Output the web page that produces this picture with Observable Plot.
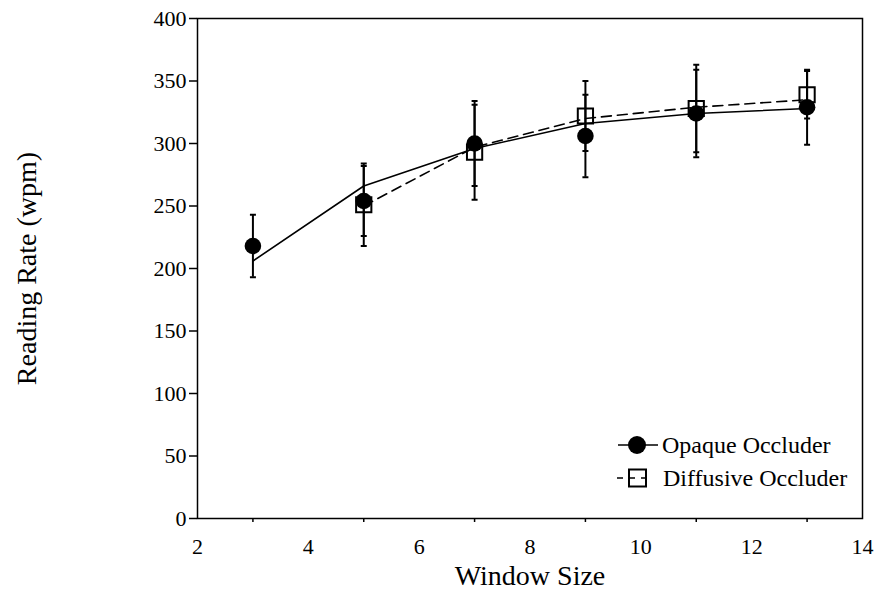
<!DOCTYPE html>
<html>
<head>
<meta charset="utf-8">
<script src="https://cdn.jsdelivr.net/npm/d3@7"></script>
<script src="https://cdn.jsdelivr.net/npm/@observablehq/plot@0.6"></script>
<style>
  html, body { margin: 0; padding: 0; background: #fff; }
  #wrap { position: relative; width: 875px; height: 592px; font-family: "Liberation Serif", serif; }
  #wrap svg text { font-family: "Liberation Serif", serif; }
  #legend { position: absolute; left: 612px; top: 428px; }
</style>
</head>
<body>
<div id="wrap"></div>
<script>
// ---- data ----
const opaqueX    = [3, 5, 7, 9, 11, 13];
const opaqueMean = [218, 254, 300, 306, 324, 329];
const opaqueErr  = [25, 28, 34, 33, 35, 30];
const opaqueFit  = [206, 266, 296, 316, 324, 328];

const diffX    = [5, 7, 9, 11, 13];
const diffMean = [251, 293, 322, 328, 339];
const diffErr  = [33, 38, 28, 35, 19];
const diffFit  = [250, 297, 320, 329, 335];

const xLabelTicks = [2, 4, 6, 8, 10, 12, 14];
const xMinorTicks = [3, 5, 7, 9, 11, 13];
const yTicks = [0, 50, 100, 150, 200, 250, 300, 350, 400];

const seriesNames = ["Opaque Occluder", "Diffusive Occluder"];
const xTitle = "Window Size";
const yTitle = "Reading Rate (wpm)";

// ---- tables ----
const opaque = opaqueX.map((x, i) => ({x, y: opaqueMean[i], e: opaqueErr[i], fit: opaqueFit[i]}));
const diffusive = diffX.map((x, i) => ({x, y: diffMean[i], e: diffErr[i], fit: diffFit[i]}));

const capSymbol = {
  draw(ctx, size) {
    const w = 3;
    ctx.moveTo(-w, 0);
    ctx.lineTo(w, 0);
  }
};

const font = "Liberation Serif";

const chart = Plot.plot({
  width: 875,
  height: 592,
  marginLeft: 197,
  marginRight: 13,
  marginTop: 18,
  marginBottom: 74,
  style: {fontFamily: font, fontSize: "22px", color: "#000", background: "#fff"},
  x: {domain: [2, 14]},
  y: {domain: [0, 400]},
  marks: [
    Plot.axisY({ticks: yTicks, tickSize: 8, tickPadding: 3, tickFormat: d => String(d), label: null, strokeWidth: 1.5, fontSize: 22, fontFamily: font}),
    Plot.axisX({ticks: xMinorTicks, tickSize: 4, tickFormat: () => "", label: null, strokeWidth: 1.5}),
    Plot.axisX({ticks: xLabelTicks, tickSize: 0, tickPadding: 20, tickFormat: d => String(d), label: null, fontSize: 22, fontFamily: font}),
    Plot.frame({stroke: "#000", strokeWidth: 1.5}),
    // fitted curves
    Plot.line(opaque, {x: "x", y: "fit", stroke: "#000", strokeWidth: 1.6}),
    Plot.line(diffusive, {x: "x", y: "fit", stroke: "#000", strokeWidth: 1.6, strokeDasharray: "10,6"}),
    // error bars
    Plot.ruleX(diffusive, {x: "x", y1: d => d.y - d.e, y2: d => d.y + d.e, stroke: "#000", strokeWidth: 2}),
    Plot.dot(diffusive, {x: "x", y: d => d.y + d.e, symbol: capSymbol, stroke: "#000", strokeWidth: 2, r: 3}),
    Plot.dot(diffusive, {x: "x", y: d => d.y - d.e, symbol: capSymbol, stroke: "#000", strokeWidth: 2, r: 3}),
    Plot.ruleX(opaque, {x: "x", y1: d => d.y - d.e, y2: d => d.y + d.e, stroke: "#000", strokeWidth: 2}),
    Plot.dot(opaque, {x: "x", y: d => d.y + d.e, symbol: capSymbol, stroke: "#000", strokeWidth: 2, r: 3}),
    Plot.dot(opaque, {x: "x", y: d => d.y - d.e, symbol: capSymbol, stroke: "#000", strokeWidth: 2, r: 3}),
    // markers
    Plot.dot(diffusive, {x: "x", y: "y", symbol: "square", r: 8.6, stroke: "#000", strokeWidth: 2, fill: "none"}),
    Plot.dot(opaque, {x: "x", y: "y", symbol: "circle", r: 8.3, fill: "#000", stroke: "none"}),
    // axis titles
    Plot.text([yTitle], {frameAnchor: "left", dx: -170, rotate: -90, textAnchor: "middle", fontSize: 28, fontFamily: font, fill: "#000"}),
    Plot.text([xTitle], {frameAnchor: "bottom", dy: 66, textAnchor: "middle", fontSize: 28, fontFamily: font, fill: "#000"})
  ]
});

const wrap = document.getElementById("wrap");
wrap.appendChild(chart);

// legend
const legend = document.createElement("div");
legend.id = "legend";
const lsvg = d3.create("svg").attr("width", 255).attr("height", 70)
  .attr("font-family", font).attr("font-size", 24);
// row 1
const r1 = lsvg.append("g").attr("transform", "translate(0,17)");
r1.append("line").attr("x1", 6).attr("x2", 46).attr("y1", 0).attr("y2", 0).attr("stroke", "#000").attr("stroke-width", 1.6);
r1.append("circle").attr("cx", 25).attr("cy", 0).attr("r", 9).attr("fill", "#000");
r1.append("text").attr("x", 50).attr("y", 0).attr("dy", "0.35em").attr("font-family", font).text(seriesNames[0]);
// row 2
const r2 = lsvg.append("g").attr("transform", "translate(0,50)");
r2.append("line").attr("x1", 5).attr("x2", 41).attr("y1", 0).attr("y2", 0).attr("stroke", "#000").attr("stroke-width", 1.6).attr("stroke-dasharray", "6,6");
r2.append("rect").attr("x", 17).attr("y", -8.5).attr("width", 17).attr("height", 17).attr("fill", "none").attr("stroke", "#000").attr("stroke-width", 2);
r2.append("text").attr("x", 51).attr("y", 0).attr("dy", "0.35em").attr("font-family", font).text(seriesNames[1]);
legend.appendChild(lsvg.node());
wrap.appendChild(legend);
</script>
</body>
</html>
